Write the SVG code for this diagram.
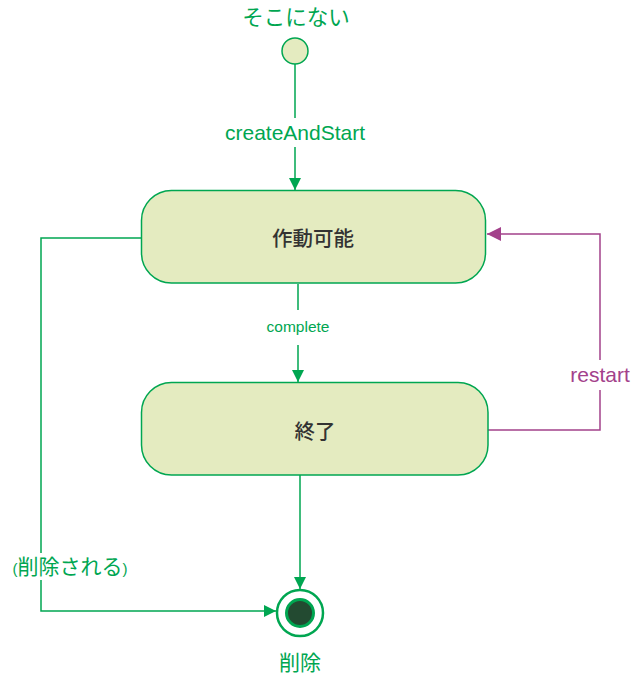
<svg xmlns="http://www.w3.org/2000/svg" width="631" height="674" viewBox="0 0 631 674">
<defs>
<style>
.st{fill:#e4ebc0;stroke:#00a651;stroke-width:1.5}
.g{fill:none;stroke:#00a651;stroke-width:1.5}
.m{fill:none;stroke:#a3418b;stroke-width:1.5}
.lbl{font-family:"Liberation Sans","Noto Sans CJK JP",sans-serif;fill:#00a651;text-anchor:middle}
.nm{font-family:"Noto Sans CJK JP","Liberation Sans",sans-serif;fill:#333;text-anchor:middle;font-size:20.5px;font-weight:500}
</style>
<marker id="ag" markerWidth="12" markerHeight="12" refX="12" refY="6" orient="auto" markerUnits="userSpaceOnUse"><path d="M0,0 L12,6 L0,12 Z" fill="#00a651"/></marker>
<marker id="am" markerWidth="14" markerHeight="14" refX="14" refY="7" orient="auto" markerUnits="userSpaceOnUse"><path d="M0,0 L14,7 L0,14 Z" fill="#a3418b"/></marker>
</defs>
<rect width="631" height="674" fill="#fff"/>
<g id="connectors">
<path class="g" d="M295,64 V118 M295,147 V190" marker-end="url(#ag)"/>
<path class="g" d="M298,284 V310 M298,345 V382" marker-end="url(#ag)"/>
<path class="g" d="M300,475 V589" marker-end="url(#ag)"/>
<path class="g" d="M141,238 H41 V553 M41,580 V611 H276" marker-end="url(#ag)"/>
<path class="m" d="M488,430 H600 V390 M600,360 V234 H487" marker-end="url(#am)"/>
<text class="lbl" x="295" y="139.5" font-size="21">createAndStart</text>
<text class="lbl" x="298" y="332" font-size="15.5">complete</text>
<text class="lbl" x="600" y="381.5" font-size="21" style="fill:#a3418b">restart</text>
<text class="lbl" x="70" y="574" font-size="21"><tspan font-size="15">(</tspan>削除される<tspan font-size="15">)</tspan></text>
</g>
<g id="start">
<circle cx="295" cy="51" r="13" class="st"/>
<text class="lbl" x="296" y="25" font-size="21.5">そこにない</text>
</g>
<g id="active">
<rect x="141.5" y="190.5" width="344" height="92.5" rx="30" class="st"/>
<text class="nm" x="313" y="245.5">作動可能</text>
</g>
<g id="done">
<rect x="141.5" y="382.5" width="346.5" height="92.5" rx="30" class="st"/>
<text class="nm" x="315" y="438.5">終了</text>
</g>
<g id="end">
<circle cx="300" cy="613" r="23" fill="#fff" stroke="#00a651" stroke-width="2.5"/>
<circle cx="300" cy="613" r="13.5" fill="#234a31" stroke="#00a651" stroke-width="3"/>
<text class="lbl" x="300" y="670" font-size="21">削除</text>
</g>
</svg>
